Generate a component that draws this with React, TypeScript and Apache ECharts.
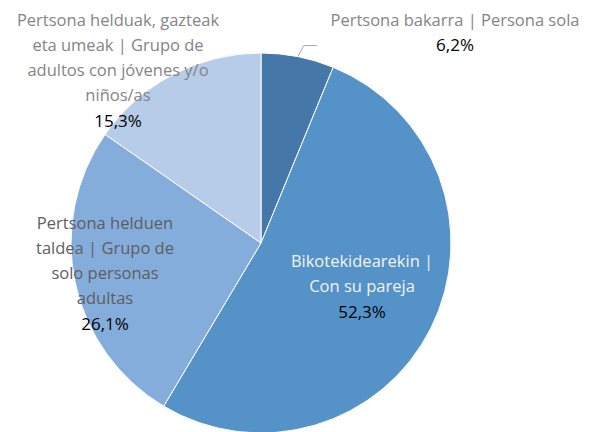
import React, { useEffect, useRef } from "react";
import * as echarts from "echarts";

const categories = [
  "Pertsona bakarra | Persona sola",
  "Bikotekidearekin |\nCon su pareja",
  "Pertsona helduen\ntaldea | Grupo de\nsolo personas\nadultas",
  "Pertsona helduak, gazteak\neta umeak | Grupo de\nadultos con jóvenes y/o\nniños/as",
];
const values = [6.2, 52.3, 26.1, 15.3];
const sliceColors = ["#4677A9", "#5592C8", "#84ADDC", "#B7CCE8"];
const nameColors = ["#858585", "#F2F2F2", "#5E5E5E", "#858585"];
// label block centres (px) for each slice
const labelCentres: [number, number][] = [
  [455, 32],
  [362, 286],
  [105, 273],
  [118, 70],
];

const FONT = "Open Sans";

export default function App() {
  const ref = useRef<HTMLDivElement>(null);
  useEffect(() => {
    if (!ref.current) return;
    const chart = echarts.init(ref.current, undefined, { renderer: "svg" });
    const fmtPct = (v: number) => v.toFixed(1).replace(".", ",") + "%";
    chart.setOption({
      animation: false,
      backgroundColor: "#FFFFFF",
      textStyle: { fontFamily: FONT },
      series: [
        {
          type: "pie",
          center: [261, 243],
          radius: 190,
          startAngle: 90,
          clockwise: true,
          itemStyle: { borderColor: "#FFFFFF", borderWidth: 1 },
          labelLine: { show: false },
          data: values.map((v, i) => ({
            name: categories[i],
            value: v,
            itemStyle: { color: sliceColors[i] },
            label: {
              show: true,
              position: i === 0 ? "outside" : "inside",
              overflow: "none",
              formatter: "{n|{b}}\n{p|" + fmtPct(v) + "}",
              rich: {
                n: {
                  fontFamily: FONT,
                  fontSize: 16.5,
                  color: nameColors[i],
                  lineHeight: 25,
                  align: "center",
                },
                p: {
                  fontFamily: FONT,
                  fontSize: 17,
                  color: "#000000",
                  lineHeight: 26,
                  align: "center",
                },
              },
            },
            labelLine: {
              show: i === 0,
              lineStyle: { color: "#A6A6A6", width: 1 },
            },
          })),
          labelLayout: (params: any) => {
            const i = params.dataIndex;
            const [cx, cy] = labelCentres[i];
            const res: any = { x: cx, y: cy, align: "center", verticalAlign: "middle" };
            if (i === 0 && params.labelLinePoints) {
              const p0 = params.labelLinePoints[0];
              res.labelLinePoints = [
                [p0[0], p0[1]],
                [p0[0] + 6, p0[1] - 11],
                [p0[0] + 19, p0[1] - 11],
              ];
            }
            return res;
          },
        },
      ],
    });
    return () => chart.dispose();
  }, []);
  return (
    <div
      ref={ref}
      style={{ width: 592, height: 432, position: "fixed", left: 0, top: 0 }}
    />
  );
}
